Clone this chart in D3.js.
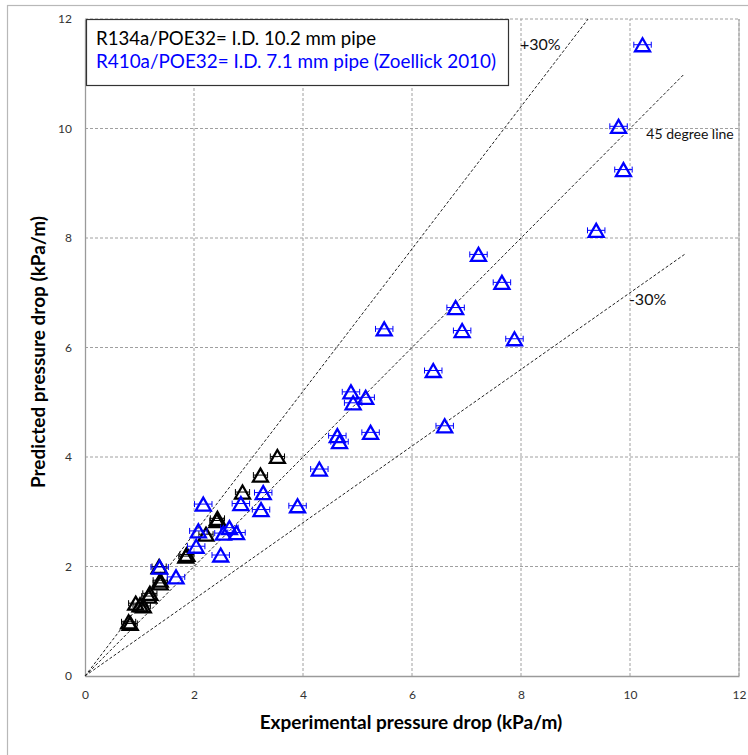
<!DOCTYPE html>
<html>
<head>
<meta charset="utf-8">
<script src="https://cdn.jsdelivr.net/npm/d3@7"></script>
<style>
  html, body { margin: 0; padding: 0; background: #fff; }
  svg { display: block; font-family: Lato, "Open Sans", sans-serif; }
</style>
</head>
<body>
<svg id="chart" width="748" height="755"></svg>
<script>
// ---- data ----
const xTicks = [0, 2, 4, 6, 8, 10, 12];
const yTicks = [0, 2, 4, 6, 8, 10, 12];

const r134aX = [3.53, 3.22, 2.89, 2.43, 2.42, 2.22, 1.87, 1.85, 1.36, 1.38, 1.38, 1.19, 1.17, 0.93, 1.01, 1.07, 0.80, 0.83];
const r134aY = [4.01, 3.67, 3.36, 2.88, 2.84, 2.59, 2.22, 2.19, 2.00, 1.75, 1.70, 1.51, 1.46, 1.33, 1.30, 1.28, 0.99, 0.96];

const r410aX = [10.23, 9.79, 9.88, 9.38, 7.22, 7.65, 6.80, 6.92, 7.88, 5.49, 6.39, 6.60, 4.88, 5.15, 4.92, 5.24, 4.63, 4.67, 4.30,
                3.90, 3.27, 3.23, 2.86, 2.17, 2.08, 2.54, 2.65, 2.78, 2.04, 2.49, 1.37, 1.67];
const r410aY = [11.53, 10.04, 9.25, 8.14, 7.70, 7.19, 6.73, 6.31, 6.16, 6.34, 5.58, 4.57, 5.19, 5.09, 4.99, 4.45, 4.39, 4.28, 3.78,
                3.11, 3.35, 3.04, 3.15, 3.14, 2.65, 2.61, 2.71, 2.62, 2.37, 2.21, 1.99, 1.81];

const r134aErr = 0.13;
const r410aErr = 0.16;

// reference lines: slope and end x
const refSlopes = [1.3, 1.0, 0.7];
const refEndX = [12 / 1.3, 11, 11];
const refLabels = ["+30%", "45 degree line", "-30%"];
const refLabelPos = [[7.98, 11.43], [10.3, 9.8], [9.98, 6.78]];

const legendLines = ["R134a/POE32= I.D. 10.2 mm pipe", "R410a/POE32= I.D. 7.1 mm pipe (Zoellick 2010)"];
const xTitle = "Experimental pressure drop (kPa/m)";
const yTitle = "Predicted pressure drop (kPa/m)";

// ---- layout ----
const svg = d3.select("#chart");
const L = 85, R = 739, T = 19, B = 676;
const x = d3.scaleLinear().domain([0, 12]).range([L, R]);
const y = d3.scaleLinear().domain([0, 12]).range([B, T]);

// outer chart border
svg.append("rect").attr("x", 7.5).attr("y", 5.5).attr("width", 800).attr("height", 800)
  .attr("fill", "#fff").attr("stroke", "#b8b8b8").attr("stroke-width", 1.2);

// gridlines
const grid = svg.append("g");
grid.selectAll(".vg").data(xTicks.filter(d => d > 0)).enter().append("line")
  .attr("x1", d => x(d)).attr("x2", d => x(d)).attr("y1", y(0)).attr("y2", y(12))
  .attr("stroke", "#a0a0a0").attr("stroke-width", 1).attr("stroke-dasharray", "3,2");
grid.selectAll(".hg").data(yTicks.filter(d => d > 0)).enter().append("line")
  .attr("x1", x(0)).attr("x2", x(12)).attr("y1", d => y(d)).attr("y2", d => y(d))
  .attr("stroke", "#a0a0a0").attr("stroke-width", 1).attr("stroke-dasharray", "3,2");

// axes
const xAxis = d3.axisBottom(x).tickValues(xTicks).tickSize(0).tickPadding(14);
const yAxis = d3.axisLeft(y).tickValues(yTicks).tickSize(0).tickPadding(13);
const gx = svg.append("g").attr("transform", `translate(0,${B})`).call(xAxis);
const gy = svg.append("g").attr("transform", `translate(${L},0)`).call(yAxis);
[gx, gy].forEach(g => {
  g.select(".domain").attr("stroke", "#9a9a9a").attr("stroke-width", 1.3);
  g.selectAll("text").attr("font-family", "Lato, sans-serif").attr("font-size", 12).attr("fill", "#333");
});
// right border line
svg.append("line").attr("x1", x(12)).attr("x2", x(12)).attr("y1", y(0)).attr("y2", y(12))
  .attr("stroke", "#a0a0a0").attr("stroke-width", 1);

// reference lines
const refG = svg.append("g");
refSlopes.forEach((s, i) => {
  refG.append("line")
    .attr("x1", x(0)).attr("y1", y(0))
    .attr("x2", x(refEndX[i])).attr("y2", y(refEndX[i] * s))
    .attr("stroke", "#222").attr("stroke-width", 1).attr("stroke-dasharray", "3,2");
});
refG.selectAll(".rl").data(refLabels).enter().append("text")
  .attr("x", (d, i) => x(refLabelPos[i][0])).attr("y", (d, i) => y(refLabelPos[i][1]))
  .attr("font-size", (d, i) => i === 1 ? 14 : 16)
  .attr("fill", "#111").text(d => d);

// markers
function drawSeries(xs, ys, err, color) {
  const g = svg.append("g");
  const pts = xs.map((v, i) => ({ x: v, y: ys[i] }));
  const cap = 3;
  pts.forEach(p => {
    const cy = y(p.y);
    g.append("line").attr("x1", x(p.x - err)).attr("x2", x(p.x + err)).attr("y1", cy).attr("y2", cy)
      .attr("stroke", color).attr("stroke-width", 1);
    [p.x - err, p.x + err].forEach(e => {
      g.append("line").attr("x1", x(e)).attr("x2", x(e)).attr("y1", cy - cap).attr("y2", cy + cap)
        .attr("stroke", color).attr("stroke-width", 1);
    });
  });
  const w = 15, h = 13;
  g.selectAll("path.tri").data(pts).enter().append("path")
    .attr("d", `M0,${-h / 2}L${w / 2},${h / 2}L${-w / 2},${h / 2}Z`)
    .attr("transform", d => `translate(${x(d.x)},${y(d.y)})`)
    .attr("fill", "none").attr("stroke", color).attr("stroke-width", 2.3)
    .attr("stroke-linejoin", "miter");
}
drawSeries(r134aX, r134aY, r134aErr, "#000000");
drawSeries(r410aX, r410aY, r410aErr, "#0000ff");

// legend
svg.append("rect").attr("x", 86.5).attr("y", 19.5).attr("width", 422).attr("height", 66)
  .attr("fill", "#fff").attr("stroke", "#333").attr("stroke-width", 1.2);
svg.append("text").attr("x", 96).attr("y", 44.5).attr("font-size", 18.5).attr("fill", "#000")
  .attr("textLength", 280).attr("lengthAdjust", "spacingAndGlyphs").text(legendLines[0]);
svg.append("text").attr("x", 96).attr("y", 67.5).attr("font-size", 18.5).attr("fill", "#0000ff")
  .attr("textLength", 400).attr("lengthAdjust", "spacingAndGlyphs").text(legendLines[1]);

// axis titles
svg.append("text").attr("x", 411).attr("y", 729).attr("text-anchor", "middle")
  .attr("font-size", 19).attr("font-weight", "bold").attr("fill", "#000").text(xTitle);
svg.append("text").attr("transform", "translate(45,352) rotate(-90)").attr("text-anchor", "middle")
  .attr("font-size", 19).attr("font-weight", "bold").attr("fill", "#000").text(yTitle);
</script>
</body>
</html>
